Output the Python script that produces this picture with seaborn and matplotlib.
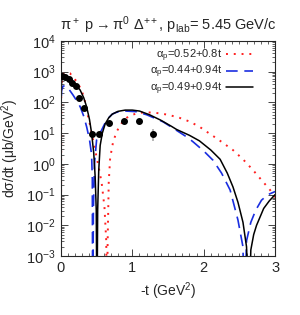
import numpy as np
import pandas as pd
import matplotlib
matplotlib.use("Agg")
import matplotlib.pyplot as plt
import seaborn as sns
from matplotlib.ticker import MultipleLocator, LogLocator, NullFormatter

sns.set_style("ticks")
plt.rcParams['font.family'] = ['Liberation Sans', 'DejaVu Sans']
plt.rcParams['mathtext.fontset'] = 'custom'
plt.rcParams['mathtext.rm'] = 'Liberation Sans'
plt.rcParams['mathtext.it'] = 'Liberation Sans'

# data points
t_data = [0.01, 0.056, 0.11, 0.154, 0.206, 0.257, 0.33, 0.435, 0.53, 0.68, 0.89, 1.09, 1.29]
dsdt_data = [700, 660, 580, 440, 340, 140, 65, 9.5, 9.5, 22, 25, 25, 9.5]
err_data = [60, 55, 50, 40, 30, 14, 7, 1.5, 1.5, 3, 3.5, 4, 4]

# model curves (log10 of dsigma/dt)
t_red = [0.0, 0.005, 0.015, 0.04, 0.08, 0.126, 0.18, 0.22, 0.29, 0.33, 0.36, 0.40, 0.45, 0.52, 0.57,
         0.61, 0.635, 0.645, 0.655, 0.67, 0.69, 0.73, 0.78, 0.85, 0.92, 1.0, 1.1, 1.2, 1.33, 1.5,
         1.66, 1.8, 1.94, 2.04, 2.2, 2.41, 2.55, 2.69, 2.8, 2.93, 3.0]
lg_red = [-5, 2.3, 2.75, 2.93, 2.97, 2.95, 2.8, 2.68, 2.4, 2.1, 1.75, 1.35, 0.78, 0.0, -0.6,
          -1.4, -2.5, -5, -2.5, -0.6, 0.2, 0.7, 1.05, 1.32, 1.5, 1.6, 1.66, 1.68, 1.66, 1.6,
          1.5, 1.38, 1.21, 1.05, 0.8, 0.45, 0.15, -0.2, -0.5, -0.85, -1.1]

t_blue = [0.0, 0.004, 0.01, 0.03, 0.06, 0.1, 0.17, 0.22, 0.27, 0.32, 0.36, 0.40, 0.43, 0.44, 0.445,
          0.455, 0.47, 0.50, 0.57, 0.64, 0.72, 0.78, 0.9, 1.05, 1.2, 1.43, 1.6, 1.78, 1.85, 2.0,
          2.13, 2.25, 2.37, 2.48, 2.55, 2.57, 2.6, 2.66, 2.73, 2.81, 2.9, 3.0]
lg_blue = [-5, 2.0, 2.4, 2.53, 2.54, 2.47, 2.24, 2.06, 1.86, 1.55, 1.21, 0.8, 0.3, -0.5, -5,
           -1.5, 0.0, 0.78, 1.1, 1.43, 1.62, 1.68, 1.72, 1.70, 1.6, 1.37, 1.12, 0.85, 0.72, 0.42,
           0.12, -0.3, -0.85, -1.83, -2.7, -5, -2.5, -1.9, -1.5, -1.18, -1.0, -0.9]

t_black = [0.0, 0.004, 0.01, 0.03, 0.06, 0.1, 0.15, 0.2, 0.27, 0.32, 0.36, 0.40, 0.43, 0.46, 0.48,
           0.495, 0.505, 0.515, 0.53, 0.55, 0.58, 0.62, 0.67, 0.72, 0.8, 0.9, 1.0, 1.1, 1.24, 1.4,
           1.55, 1.62, 1.8, 1.94, 2.1, 2.23, 2.33, 2.41, 2.48, 2.55, 2.6, 2.635, 2.66, 2.7, 2.74,
           2.84, 2.92, 3.0]
lg_black = [-5, 2.3, 2.7, 2.88, 2.88, 2.83, 2.73, 2.6, 2.4, 2.15, 1.86, 1.45, 1.0, 0.35, -0.42,
            -1.5, -5, -1.5, -0.2, 0.6, 1.0, 1.3, 1.5, 1.62, 1.71, 1.75, 1.75, 1.72, 1.6, 1.42,
            1.22, 1.12, 0.93, 0.75, 0.45, 0.15, -0.3, -0.75, -1.25, -1.9, -2.7, -5, -2.8, -2.3, -2.0,
            -1.45, -1.2, -1.0]

labels = [r"$\alpha_{\rm p}$=0.52+0.8t", r"$\alpha_{\rm p}$=0.44+0.94t", r"$\alpha_{\rm p}$=0.49+0.94t"]

fig = plt.figure(figsize=(3.0, 3.15), dpi=100)
ax = fig.add_axes([0.203, 0.187, 0.714, 0.683])

curves = [(t_red, lg_red, "#ff2020", (0, (1, 3)), 1.4),
          (t_blue, lg_blue, "#1a2ee0", (0, (7, 4)), 1.2),
          (t_black, lg_black, "black", "-", 1.1)]
for (tt, lg, col, ls, lw), lab in zip(curves, labels):
    df = pd.DataFrame({"t": tt, "y": 10.0 ** np.array(lg)})
    sns.lineplot(data=df, x="t", y="y", ax=ax, sort=False, estimator=None,
                 color=col, linestyle=ls, linewidth=lw, label=lab)

ax.errorbar(t_data, dsdt_data, yerr=err_data, fmt="o", color="black", ms=4,
            ecolor="#aaaaaa", elinewidth=1.2, capsize=0, zorder=5)

ax.set_yscale("log")
ax.set_xlim(0, 3)
ax.set_ylim(1e-3, 1e4)
ax.xaxis.set_major_locator(MultipleLocator(1))
ax.xaxis.set_minor_locator(MultipleLocator(0.1))
ax.yaxis.set_major_locator(LogLocator(base=10, numticks=20))
ax.yaxis.set_minor_locator(LogLocator(base=10, subs=np.arange(2, 10), numticks=20))
ax.yaxis.set_minor_formatter(NullFormatter())
ax.tick_params(which="both", direction="in", top=True, right=True, labelsize=10.5)
ax.tick_params(which="major", length=5, width=0.6)
ax.tick_params(which="minor", length=2.5, width=0.5)
for s in ax.spines.values():
    s.set_linewidth(0.8)

ax.set_xlabel(r"-t (GeV$^2$)", fontsize=10)
ax.set_ylabel(r"d$\sigma$/dt ($\mu$b/GeV$^2$)", fontsize=10)
ax.set_title(r"$\pi^+$ p$\rightarrow$$\pi^0$ $\Delta^{++}$, p$_{\rm lab}$= 5.45 GeV/c", fontsize=10.5, pad=8)

leg = ax.legend(loc="upper right", frameon=False, markerfirst=False, fontsize=8,
                handlelength=2.5, handletextpad=0.3, labelspacing=0.0,
                bbox_to_anchor=(0.93, 1.0), borderaxespad=0.2)

fig.savefig("out.png", dpi=100)
